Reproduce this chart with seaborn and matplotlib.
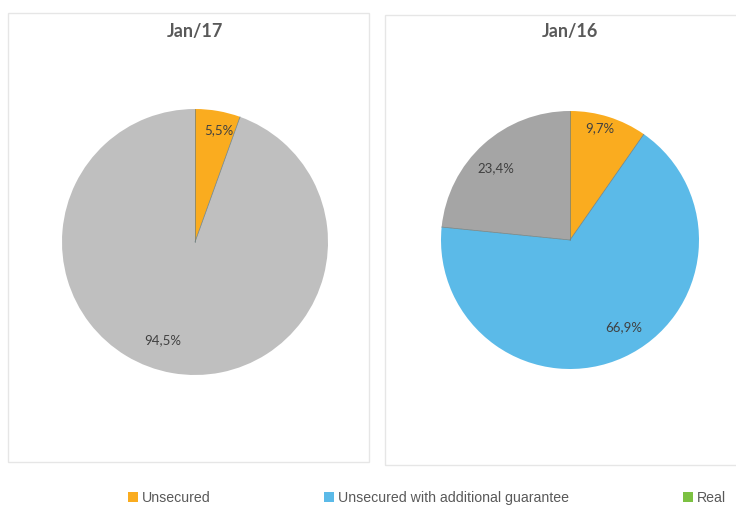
import matplotlib
matplotlib.use("Agg")
import numpy as np
import matplotlib.pyplot as plt
from matplotlib.patches import Rectangle, Patch
import seaborn as sns

sns.set_theme(style="white")
plt.rcParams["font.family"] = ["Lato", "DejaVu Sans"]

# Loan portfolio composition by guarantee type
legend_categories = ["Unsecured", "Unsecured with additional guarantee", "Real"]
legend_colors = ["#FAAC1F", "#5BBAE8", "#7CC142"]

jan17_labels = ["Unsecured", "Other"]
jan17_values = [5.5, 94.5]
jan17_colors = ["#FAAC1F", "#BFBFBF"]

jan16_labels = ["Unsecured", "Unsecured with additional guarantee", "Other"]
jan16_values = [9.7, 66.9, 23.4]
jan16_colors = ["#FAAC1F", "#5BBAE8", "#A5A5A5"]

W, H = 736, 505
fig = plt.figure(figsize=(W / 100, H / 100), dpi=100)
fig.patch.set_facecolor("white")


def px_rect(x0, y0, x1, y1):
    """Pixel box (top-left origin) to figure fraction rectangle."""
    return [x0 / W, 1 - y1 / H, (x1 - x0) / W, (y1 - y0) / H]


# Panel frames
for (x0, y0, x1, y1) in [(8, 13, 369, 462), (385, 15, 740, 465)]:
    l, b, w, h = px_rect(x0, y0, x1, y1)
    fig.patches.append(Rectangle((l, b), w, h, transform=fig.transFigure,
                                 fill=False, edgecolor="#E6E6E6", linewidth=1.0))


def draw_pie(cx, cy, r, values, colors, placements, title, title_y):
    ax = fig.add_axes(px_rect(cx - r, cy - r, cx + r, cy + r))
    wedges, _ = ax.pie(values, colors=colors, startangle=90, counterclock=False,
                       radius=1.0, wedgeprops=dict(linewidth=0))
    # thin separators along the slice boundaries
    for wdg in wedges:
        a = np.deg2rad(wdg.theta1)
        ax.plot([0, np.cos(a)], [0, np.sin(a)], color="#6E7F7F", lw=0.5)
    ax.set_xlim(-1, 1)
    ax.set_ylim(-1, 1)
    ax.axis("off")
    for wdg, v, (d, ox, oy) in zip(wedges, values, placements):
        ang = np.deg2rad((wdg.theta1 + wdg.theta2) / 2)
        ax.text(d * np.cos(ang) + ox, d * np.sin(ang) + oy,
                f"{v:.1f}%".replace(".", ","), ha="center", va="center",
                fontsize=9.5, color="#404040")
    fig.text(cx / W, 1 - title_y / H, title, ha="center", va="center",
             fontsize=13, fontweight="bold", color="#595959")


draw_pie(195, 242, 133, jan17_values, jan17_colors,
         [(0.86, 0.03, -0.01), (0.78, -0.11, 0.03)], "Jan/17", 31)
draw_pie(570, 240, 129, jan16_values, jan16_colors,
         [(0.88, -0.03, 0.03), (0.79, 0.085, 0.04), (0.80, -0.04, -0.04)], "Jan/16", 32)

handles = [Patch(facecolor=c, edgecolor="none") for c in legend_colors]
fig.legend(handles, legend_categories, loc="center", ncol=3,
           bbox_to_anchor=(427 / W, 1 - 498 / H), frameon=False,
           prop={"family": "Liberation Sans", "size": 10.2},
           labelcolor="#595959", handlelength=0.7, handleheight=0.7,
           handletextpad=0.3, columnspacing=8.0)

fig.savefig("out.png", dpi=100, facecolor="white")
